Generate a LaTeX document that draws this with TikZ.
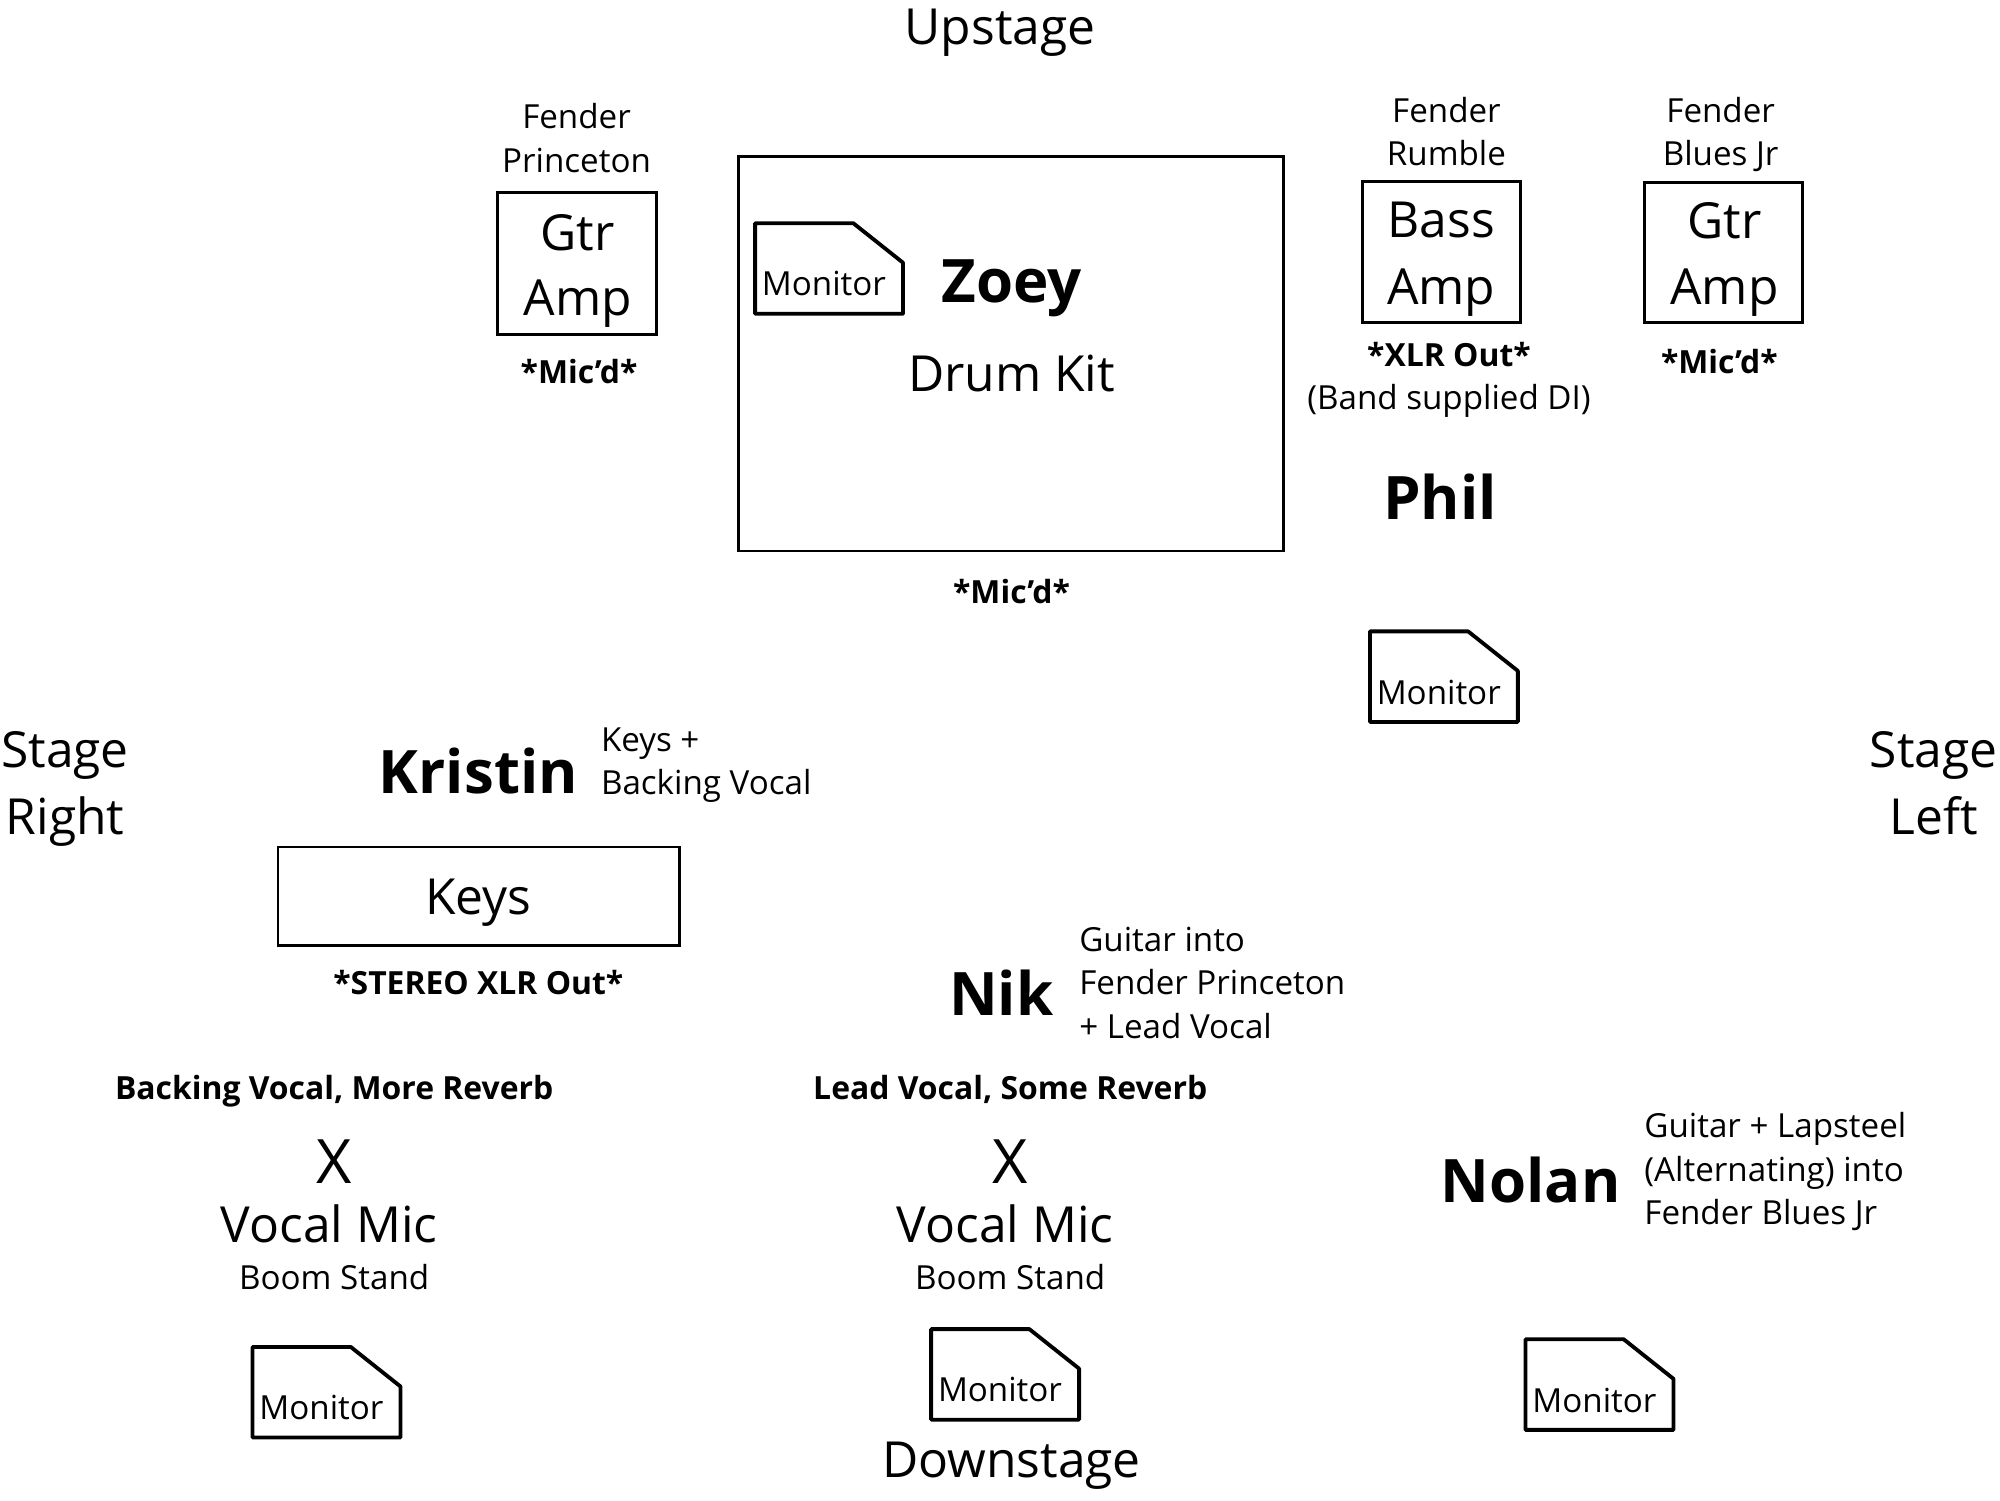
\documentclass[tikz,border=0pt]{standalone}
\usepackage{fontspec}
\setmainfont{Open Sans}

\tikzset{
	big/.style={inner sep=0pt, anchor=base, font=\fontsize{39}{44}\selectfont},
	small/.style={inner sep=0pt, anchor=base, font=\fontsize{26}{30}\selectfont},
	smallb/.style={small, font=\fontsize{25}{30}\selectfont\bfseries},
	who/.style={inner sep=0pt, anchor=base, font=\fontsize{47}{52}\selectfont\bfseries},
	box/.style={line width=2.2pt},
	monline/.style={line width=3pt, line join=round},
	monitor/.pic={
		\draw[monline] (0,0) -- (77,0) -- (116,31) -- (116,71) -- (0,71) -- cycle;
		\node[small] (-txt) at (54,57) {Monitor};
	}
}

\begin{document}
\begin{tikzpicture}[x=1pt, y=-1pt]
	\useasboundingbox (0,0) rectangle (1568,1176);

	% directions
	\node[big] (up) at (784,35) {Upstage};
	\node[big] (down) at (793,1158) {Downstage};
	\node[big] (sr1) at (51,602) {Stage};
	\node[big] (sr2) at (51,654) {Right};
	\node[big] (sl1) at (1516,602) {Stage};
	\node[big] (sl2) at (1516,654) {Left};

	% Fender Princeton
	\node[small] (fpr1) at (452,101) {Fender};
	\node[small] (fpr2) at (452,135) {Princeton};
	\draw[box] (390,151) rectangle (515,262);
	\node[big] (gtra1) at (453,196) {Gtr};
	\node[big] (gtra2) at (453,247) {Amp};
	\node[smallb] (micgtra) at (454,301) {*Mic’d*};

	% drums
	\draw[box] (579,123) rectangle (1006,432);
	\pic (mondrum) at (592,175) {monitor};
	\node[who] (zoey) at (793,237) {Zoey};
	\node[big] (kit) at (793,307) {Drum Kit};
	\node[smallb] (micdrum) at (793,473) {*Mic’d*};

	% Fender Rumble
	\node[small] (frum1) at (1134,96) {Fender};
	\node[small] (frum2) at (1134,130) {Rumble};
	\draw[box] (1068,142) rectangle (1192,253);
	\node[big] (bass1) at (1130,186) {Bass};
	\node[big] (bass2) at (1130,239) {Amp};
	\node[smallb] (xlr) at (1136,287) {*XLR Out*};
	\node[small] (di) at (1136,321) {(Band supplied DI)};

	% Fender Blues Jr
	\node[small] (fbj1) at (1349,96) {Fender};
	\node[small] (fbj2) at (1349,130) {Blues Jr};
	\draw[box] (1289,143) rectangle (1413,253);
	\node[big] (gtrb1) at (1352,187) {Gtr};
	\node[big] (gtrb2) at (1352,239) {Amp};
	\node[smallb] (micgtrb) at (1348,293) {*Mic’d*};

	% Phil
	\node[who] (phil) at (1129,407) {Phil};
	\pic (monphil) at (1074,495) {monitor};

	% Kristin
	\node[who] (kristin) at (375,622) {Kristin};
	\node[small, anchor=base west] (kr1) at (471,589) {Keys +};
	\node[small, anchor=base west] (kr2) at (471,623) {Backing Vocal};
	\draw[box] (218,664) rectangle (533,741);
	\node[big] (keys) at (375,717) {Keys};
	\node[smallb] (stereo) at (375,780) {*STEREO XLR Out*};

	% Nik
	\node[who] (nik) at (785,796) {Nik};
	\node[small, anchor=base west] (nik1) at (846,746) {Guitar into};
	\node[small, anchor=base west] (nik2) at (846,780) {Fender Princeton};
	\node[small, anchor=base west] (nik3) at (846,814) {+ Lead Vocal};

	% vocal mics
	\node[smallb] (bvrev) at (262,862) {Backing Vocal, More Reverb};
	\node[big, font=\fontsize{48}{52}\selectfont] (xl) at (262,928) {X};
	\node[big] (micl) at (258,974) {Vocal Mic};
	\node[small] (booml) at (262,1011) {Boom Stand};
	\node[smallb] (lvrev) at (792,862) {Lead Vocal, Some Reverb};
	\node[big, font=\fontsize{48}{52}\selectfont] (xc) at (792,928) {X};
	\node[big] (micc) at (788,974) {Vocal Mic};
	\node[small] (boomc) at (792,1011) {Boom Stand};

	% Nolan
	\node[who] (nolan) at (1200,943) {Nolan};
	\node[small, anchor=base west] (nol1) at (1289,892) {Guitar + Lapsteel};
	\node[small, anchor=base west] (nol2) at (1289,926) {(Alternating) into};
	\node[small, anchor=base west] (nol3) at (1289,960) {Fender Blues Jr};

	% downstage monitors
	\pic (monl) at (198,1056) {monitor};
	\pic (monc) at (730,1042) {monitor};
	\pic (monr) at (1196,1050) {monitor};
\end{tikzpicture}
\end{document}
